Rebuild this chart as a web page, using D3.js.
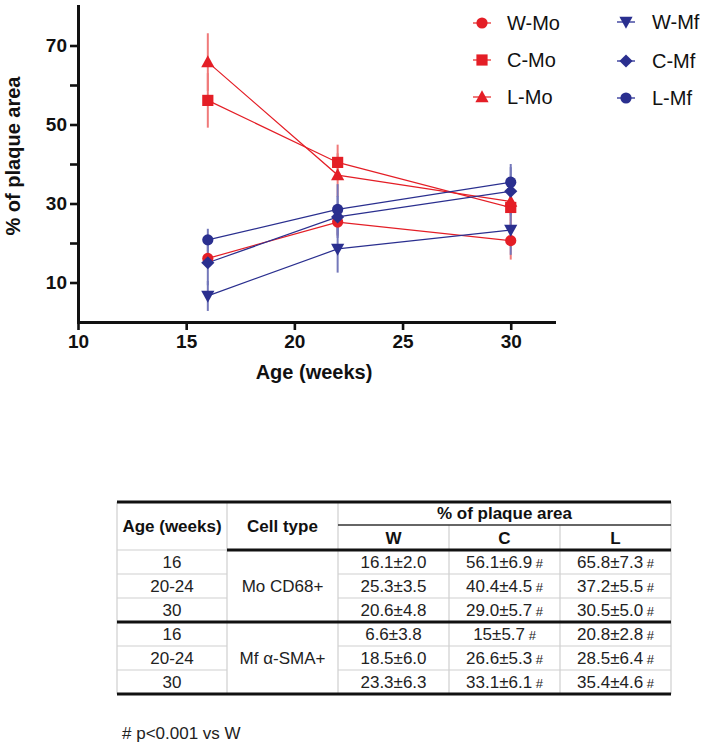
<!DOCTYPE html>
<html>
<head>
<meta charset="utf-8">
<script src="https://cdn.jsdelivr.net/npm/d3@7"></script>
<style>
  html, body { margin: 0; padding: 0; background: #fff; }
  svg { display: block; font-family: "Liberation Sans", Arial, sans-serif; }
</style>
</head>
<body>
<svg id="chart" width="708" height="748"></svg>
<script>
// ---------- DATA ----------
const ages = [16, 22, 30];                 // plotted x positions (weeks)
const ageLabels = ["16", "20-24", "30"];   // table row labels
const xTicks = [10, 15, 20, 25, 30];
const yTicks = [10, 20, 30, 40, 50, 60, 70];
const yTickLabels = ["10", "", "30", "", "50", "", "70"];

const seriesNames = ["W-Mo", "C-Mo", "L-Mo", "W-Mf", "C-Mf", "L-Mf"];
// means (as printed in the table) and SDs
const wMo = ["16.1", "25.3", "20.6"];  const wMoSD = [2.0, 3.5, 4.8];
const cMo = ["56.1", "40.4", "29.0"];  const cMoSD = [6.9, 4.5, 5.7];
const lMo = ["65.8", "37.2", "30.5"];  const lMoSD = [7.3, 5.5, 5.0];
const wMf = ["6.6", "18.5", "23.3"];   const wMfSD = [3.8, 6.0, 6.3];
const cMf = ["15", "26.6", "33.1"];    const cMfSD = [5.7, 5.3, 6.1];
const lMf = ["20.8", "28.5", "35.4"];  const lMfSD = [2.8, 6.4, 4.6];

const groups = ["W", "C", "L"];
const sigMarks = ["", "#", "#"];
const cellTypes = ["Mo CD68+", "Mf α-SMA+"];
const footnote = "# p<0.001 vs W";

// ---------- STYLE ----------
const RED = "#e41e26", RED_LIGHT = "#f07a7a";
const BLUE = "#2a2f8f", BLUE_LIGHT = "#7478ba";

const series = [
  { name: seriesNames[0], mean: wMo, sd: wMoSD, color: RED,  light: RED_LIGHT,  shape: "circle" },
  { name: seriesNames[1], mean: cMo, sd: cMoSD, color: RED,  light: RED_LIGHT,  shape: "square" },
  { name: seriesNames[2], mean: lMo, sd: lMoSD, color: RED,  light: RED_LIGHT,  shape: "triangle" },
  { name: seriesNames[3], mean: wMf, sd: wMfSD, color: BLUE, light: BLUE_LIGHT, shape: "tridown" },
  { name: seriesNames[4], mean: cMf, sd: cMfSD, color: BLUE, light: BLUE_LIGHT, shape: "diamond" },
  { name: seriesNames[5], mean: lMf, sd: lMfSD, color: BLUE, light: BLUE_LIGHT, shape: "circle" }
];

function shapePath(shape) {
  const p = d3.path();
  if (shape === "circle") { p.moveTo(5.6, 0); p.arc(0, 0, 5.6, 0, 2 * Math.PI); }
  else if (shape === "square") { p.rect(-5.6, -5.6, 11.2, 11.2); }
  else if (shape === "triangle") { p.moveTo(0, -6.8); p.lineTo(6.6, 5.2); p.lineTo(-6.6, 5.2); p.closePath(); }
  else if (shape === "tridown") { p.moveTo(0, 6.8); p.lineTo(6.6, -5.2); p.lineTo(-6.6, -5.2); p.closePath(); }
  else if (shape === "diamond") { p.moveTo(0, -6.6); p.lineTo(6.6, 0); p.lineTo(0, 6.6); p.lineTo(-6.6, 0); p.closePath(); }
  return p.toString();
}

const svg = d3.select("#chart");

// ---------- CHART ----------
const x = d3.scaleLinear().domain([10, 32]).range([78, 554]);
const y = d3.scaleLinear().domain([0, 80]).range([322, 6]);

// axes
const gx = svg.append("g").attr("transform", `translate(0,${y(0)})`)
  .call(d3.axisBottom(x).tickValues(xTicks).tickSize(8).tickSizeOuter(0).tickPadding(5));
const gy = svg.append("g").attr("transform", `translate(${x(10)},0)`)
  .call(d3.axisLeft(y).tickValues(yTicks).tickFormat((d, i) => yTickLabels[i]).tickSize(8).tickSizeOuter(0).tickPadding(3));
[gx, gy].forEach(g => {
  g.select(".domain").attr("stroke", "#111").attr("stroke-width", 3).attr("stroke-linecap", "square");
  g.selectAll(".tick line").attr("stroke", "#111").attr("stroke-width", 2.6);
  g.selectAll(".tick text").attr("fill", "#111").attr("font-size", 19).attr("font-weight", "bold")
    .attr("font-family", "'Liberation Sans', Arial, sans-serif");
});

svg.append("text").attr("x", 314).attr("y", 379).attr("text-anchor", "middle")
  .attr("font-size", 20).attr("font-weight", "bold").attr("fill", "#111").text("Age (weeks)");
svg.append("text").attr("transform", "translate(20,156) rotate(-90)").attr("text-anchor", "middle")
  .attr("font-size", 20).attr("font-weight", "bold").attr("fill", "#111").text("% of plaque area");

// error bars
const plot = svg.append("g");
series.forEach(s => {
  plot.append("g").selectAll("line").data(ages).join("line")
    .attr("x1", d => x(d)).attr("x2", d => x(d))
    .attr("y1", (d, i) => y(+s.mean[i] - s.sd[i]))
    .attr("y2", (d, i) => y(+s.mean[i] + s.sd[i]))
    .attr("stroke", s.light).attr("stroke-width", 2);
});
// lines
const line = d3.line().x((d, i) => x(ages[i])).y(d => y(+d));
series.forEach(s => {
  plot.append("path").attr("d", line(s.mean)).attr("fill", "none")
    .attr("stroke", s.color).attr("stroke-width", 1.2);
});
// markers
series.forEach(s => {
  plot.append("g").selectAll("path").data(s.mean).join("path")
    .attr("transform", (d, i) => `translate(${x(ages[i])},${y(+d)})`)
    .attr("d", shapePath(s.shape)).attr("fill", s.color);
});

// legend
const legendCols = [{ sx: 482, tx: 507, ys: [23, 60, 97] }, { sx: 626, tx: 652, ys: [22, 61, 98] }];
series.forEach((s, k) => {
  const col = legendCols[Math.floor(k / 3)];
  const ly = col.ys[k % 3];
  const g = svg.append("g");
  g.append("line").attr("x1", col.sx - 9).attr("x2", col.sx + 9).attr("y1", ly).attr("y2", ly)
    .attr("stroke", s.light).attr("stroke-width", 2);
  g.append("path").attr("transform", `translate(${col.sx},${ly})`).attr("d", shapePath(s.shape)).attr("fill", s.color);
  g.append("text").attr("x", col.tx).attr("y", ly + 7).attr("font-size", 20).attr("fill", "#111").text(s.name);
});

// ---------- TABLE ----------
const colX = [117, 227, 338, 449, 560, 671];
const rowTop = 502, hdr1 = 525, hdr2 = 550, rowH = 24;
const rowY = d3.range(7).map(i => hdr2 + i * rowH); // 550 ... 694
const tbl = svg.append("g").attr("font-size", 17).attr("fill", "#222");
const GRAY = "#cfcfcf";
function hl(x1, x2, yy, c, w) { tbl.append("line").attr("x1", x1).attr("x2", x2).attr("y1", yy).attr("y2", yy).attr("stroke", c).attr("stroke-width", w); }
function vl(xx, y1, y2, c, w) { tbl.append("line").attr("x1", xx).attr("x2", xx).attr("y1", y1).attr("y2", y2).attr("stroke", c).attr("stroke-width", w); }

// thin gray verticals
vl(colX[0], rowTop, rowY[6], GRAY, 1.2);
vl(colX[1], rowTop, rowY[6], GRAY, 1.2);
vl(colX[2], rowTop, rowY[6], GRAY, 1.2);
vl(colX[3], hdr1, rowY[6], GRAY, 1.2);
vl(colX[4], hdr1, rowY[6], GRAY, 1.2);
vl(colX[5], rowTop, rowY[6], GRAY, 1.2);
// thin gray horizontals
hl(colX[0], colX[1], hdr2, GRAY, 1.2);
[1, 2, 4, 5].forEach(r => { hl(colX[0], colX[1], rowY[r], GRAY, 1.2); hl(colX[2], colX[5], rowY[r], GRAY, 1.2); });
// dark lines
hl(colX[2], colX[5], hdr1, "#333", 1.5);
hl(colX[0], colX[5], rowTop, "#111", 3);
hl(colX[1], colX[5], hdr2, "#111", 3);
hl(colX[0], colX[5], rowY[3], "#111", 3);
hl(colX[0], colX[5], rowY[6], "#111", 3);

const cx = i => (colX[i] + colX[i + 1]) / 2;
function ttext(xx, yy, str, bold) {
  return tbl.append("text").attr("x", xx).attr("y", yy).attr("text-anchor", "middle")
    .attr("font-weight", bold ? "bold" : null).attr("fill", bold ? "#111" : "#222").text(str);
}
ttext(cx(0), 532, "Age (weeks)", true);
ttext(cx(1), 532, "Cell type", true);
ttext((colX[2] + colX[5]) / 2, 519, "% of plaque area", true);
groups.forEach((g, j) => ttext(cx(2 + j), 544, g, true));

const blocks = [[wMo, cMo, lMo, wMoSD, cMoSD, lMoSD], [wMf, cMf, lMf, wMfSD, cMfSD, lMfSD]];
blocks.forEach((b, bi) => {
  ttext(cx(1), rowY[bi * 3] + rowH * 1.5 + 6, cellTypes[bi], false);
  ages.forEach((a, i) => {
    const yy = rowY[bi * 3 + i] + rowH / 2 + 6;
    ttext(cx(0), yy, ageLabels[i], false);
    groups.forEach((g, j) => {
      const t = ttext(cx(2 + j), yy, "", false);
      t.append("tspan").text(`${b[j][i]}±${d3.format(".1f")(b[3 + j][i])}`);
      if (sigMarks[j]) t.append("tspan").attr("font-size", 13).text(" " + sigMarks[j]);
    });
  });
});

svg.append("text").attr("x", 122).attr("y", 739).attr("font-size", 17).attr("fill", "#222").text(footnote);
</script>
</body>
</html>
